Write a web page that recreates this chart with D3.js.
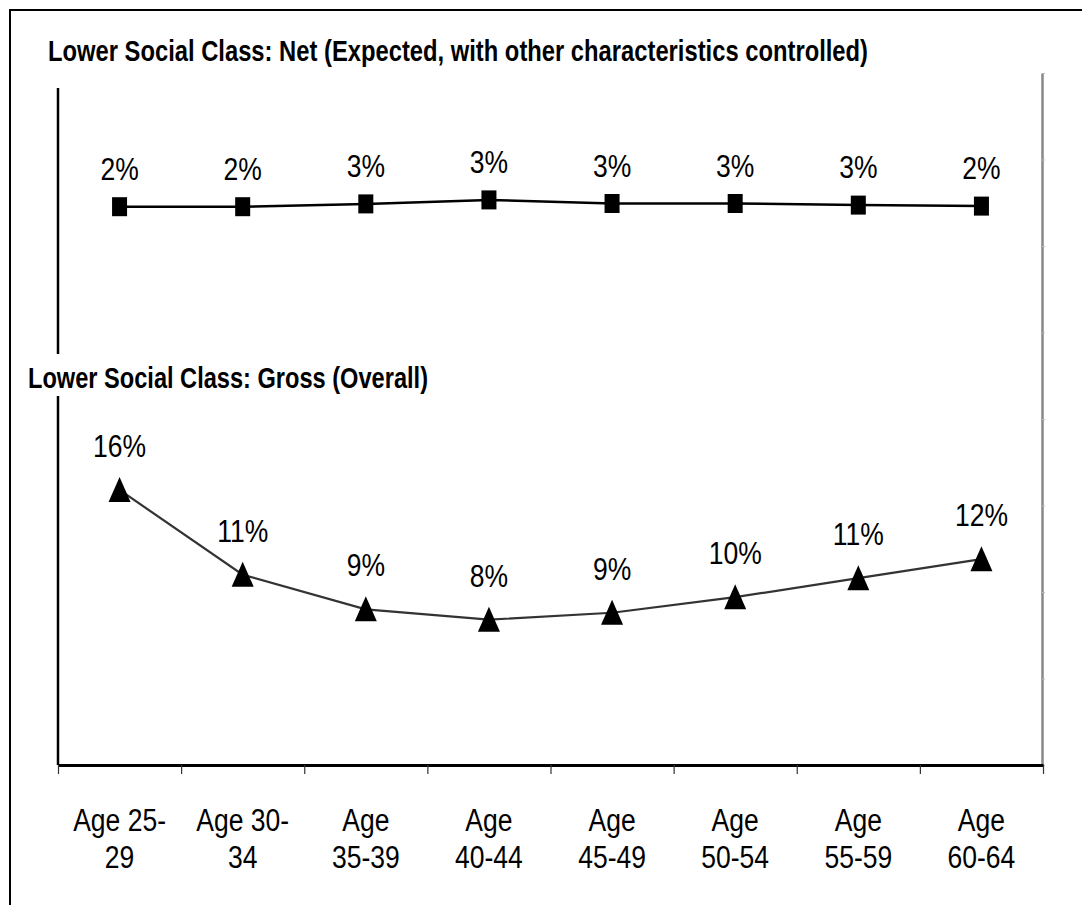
<!DOCTYPE html>
<html>
<head>
<meta charset="utf-8">
<script src="https://cdn.jsdelivr.net/npm/d3@7"></script>
<style>
  body { margin: 0; background: #fff; }
  text { font-family: "Liberation Sans", Arial, sans-serif; }
</style>
</head>
<body>
<div id="chart"></div>
<script>
// categories and tick labels (two lines each)
var categories = ["25-29", "30-34", "35-39", "40-44", "45-49", "50-54", "55-59", "60-64"];
var tickLines = [["Age 25-", "29"], ["Age 30-", "34"], ["Age", "35-39"], ["Age", "40-44"],
                 ["Age", "45-49"], ["Age", "50-54"], ["Age", "55-59"], ["Age", "60-64"]];
// series values, percent
var netValues = [2.44, 2.44, 2.58, 2.78, 2.6, 2.6, 2.52, 2.47];
var grossValues = [15.9, 11.0, 9.0, 8.4, 8.8, 9.7, 10.8, 11.9];
var netTitle = "Lower Social Class: Net (Expected, with other characteristics  controlled)";
var grossTitle = "Lower Social Class: Gross (Overall)";

var W = 1082, H = 905;
var plotLeft = 58, plotRight = 1043, plotBottom = 765, plotTop = 73;
var stretch = 1.2;   // text in the picture is drawn a bit tall

var svg = d3.select("#chart").append("svg")
        .attr("width", W).attr("height", H);

// outer frame, runs off the right and bottom edges
svg.append("rect")
        .attr("x", 10).attr("y", 10)
        .attr("width", 1200).attr("height", 1200)
        .style("fill", "none").style("stroke", "#000").style("stroke-width", 2);

var x = d3.scaleBand().domain(categories).range([plotLeft, plotRight]);
var xb = d3.scaleLinear().domain([0, categories.length]).range([plotLeft, plotRight]);
var yGross = d3.scaleLinear().domain([0, 40]).range([plotBottom, plotTop]);
var yNet = d3.scaleLinear().domain([0, 10]).range([255.5, 55.5]);

// right gray axis
var gRight = svg.append("g")
        .attr("transform", "translate(" + (plotRight - 1) + ",0)")
        .call(d3.axisRight(yGross).ticks(8).tickSize(3).tickFormat("").tickSizeOuter(0));
gRight.select(".domain").style("stroke", "#888").style("stroke-width", 2.5);
gRight.selectAll(".tick line").style("stroke", "#bbb").style("stroke-width", 1);

// left black axis
svg.append("line")
        .attr("x1", plotLeft).attr("x2", plotLeft)
        .attr("y1", 88).attr("y2", plotBottom)
        .style("stroke", "#000").style("stroke-width", 2.5);

// bottom axis with ticks between categories
var gx = svg.append("g")
        .attr("transform", "translate(0," + plotBottom + ")")
        .call(d3.axisBottom(xb).ticks(categories.length).tickSize(9).tickFormat("").tickSizeOuter(0));
gx.select(".domain").style("stroke", "#000").style("stroke-width", 3);
gx.selectAll(".tick line").style("stroke", "#333").style("stroke-width", 1.2);

function cx(d, i) { return x(categories[i]) + x.bandwidth() / 2; }

// category labels
var lab = svg.append("g").selectAll("text")
        .data(categories).enter().append("text")
        .attr("text-anchor", "middle")
        .style("font-size", "26.5px")
        .attr("transform", function (d, i) {
            return "translate(" + cx(d, i) + ",831) scale(1," + stretch + ")";
        });
lab.each(function (d, i) {
    var t = d3.select(this);
    tickLines[i].forEach(function (s, j) {
        t.append("tspan").attr("x", 0).attr("dy", j === 0 ? 0 : 37 / stretch).text(s);
    });
});

// gross series
svg.append("path")
        .datum(grossValues)
        .attr("d", d3.line().x(cx).y(function (d) { return yGross(d); }))
        .style("fill", "none").style("stroke", "#333").style("stroke-width", 2.2);

svg.append("g").selectAll("path")
        .data(grossValues).enter().append("path")
        .attr("d", "M0,-13L11,12L-11,12Z")
        .attr("transform", function (d, i) { return "translate(" + cx(d, i) + "," + yGross(d) + ")"; })
        .style("fill", "#000");

svg.append("g").selectAll("text")
        .data(grossValues).enter().append("text")
        .attr("text-anchor", "middle")
        .style("font-size", "26.5px")
        .attr("transform", function (d, i) {
            return "translate(" + cx(d, i) + "," + (yGross(d) - 33) + ") scale(1," + stretch + ")";
        })
        .text(function (d) { return Math.round(d) + "%"; });

// net series
svg.append("path")
        .datum(netValues)
        .attr("d", d3.line().x(cx).y(function (d) { return yNet(d); }))
        .style("fill", "none").style("stroke", "#000").style("stroke-width", 2.5);

svg.append("g").selectAll("rect")
        .data(netValues).enter().append("rect")
        .attr("x", function (d, i) { return cx(d, i) - 7.5; })
        .attr("y", function (d) { return yNet(d) - 9.5; })
        .attr("width", 15).attr("height", 19)
        .style("fill", "#000");

svg.append("g").selectAll("text")
        .data(netValues).enter().append("text")
        .attr("text-anchor", "middle")
        .style("font-size", "26.5px")
        .attr("transform", function (d, i) {
            return "translate(" + cx(d, i) + "," + (yNet(d) - 27) + ") scale(1," + stretch + ")";
        })
        .text(function (d) { return Math.round(d) + "%"; });

// titles
svg.append("text")
        .attr("transform", "translate(48,61) scale(1," + stretch + ")")
        .attr("textLength", 820).attr("lengthAdjust", "spacingAndGlyphs")
        .style("font-size", "24px").style("font-weight", "bold")
        .text(netTitle);

svg.append("rect")
        .attr("x", 14).attr("y", 354)
        .attr("width", 420).attr("height", 42)
        .style("fill", "#fff");
svg.append("text")
        .attr("transform", "translate(28,388) scale(1," + stretch + ")")
        .attr("textLength", 400).attr("lengthAdjust", "spacingAndGlyphs")
        .style("font-size", "24px").style("font-weight", "bold")
        .text(grossTitle);
</script>
</body>
</html>
